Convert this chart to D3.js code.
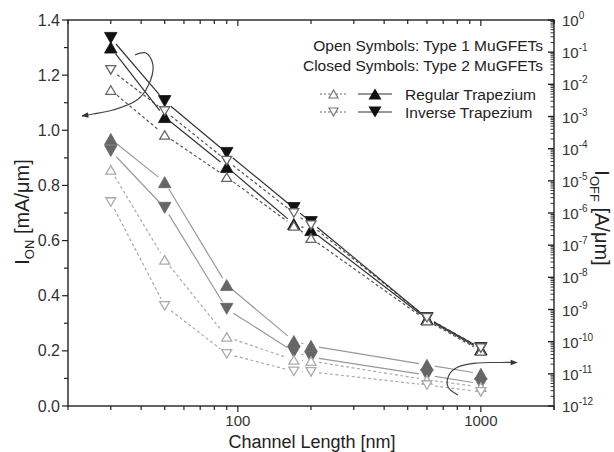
<!DOCTYPE html>
<html>
<head>
<meta charset="utf-8">
<script src="https://cdn.jsdelivr.net/npm/d3@7"></script>
<style>
  body { margin: 0; background: #fff; }
  svg { display: block; font-family: "Liberation Sans", Arial, sans-serif; }
</style>
</head>
<body>
<svg id="chart" width="614" height="452"></svg>
<script>
// channel lengths [nm]
const lengths = [30, 50, 90, 170, 200, 600, 1000];

// I_ON [mA/um] (left axis) - upper black group
const ionRegClosed = [1.30, 1.048, 0.867, 0.66, 0.638, 0.315, 0.205];
const ionInvClosed = [1.335, 1.106, 0.918, 0.718, 0.667, 0.319, 0.21];
const ionRegOpen = [1.146, 0.983, 0.83, 0.653, 0.609, 0.31, 0.2];
const ionInvOpen = [1.219, 1.07, 0.89, 0.70, 0.656, 0.32, 0.21];

// I_OFF [A/um] (right axis) - lower grey group
const ioffRegClosed = [2.0e-4, 9.1e-6, 5.8e-9, 1.05e-10, 7.4e-11, 1.9e-11, 1.0e-11];
const ioffInvClosed = [8.5e-5, 1.45e-6, 1.05e-9, 4.8e-11, 3.3e-11, 9.1e-12, 4.9e-12];
const ioffRegOpen = [2.2e-5, 3.5e-8, 1.4e-10, 2.7e-11, 2.5e-11, 6.5e-12, 3.9e-12];
const ioffInvOpen = [2.2e-6, 1.3e-9, 4.2e-11, 1.2e-11, 1.15e-11, 4.5e-12, 2.75e-12];

const leftTicks = [0.0, 0.2, 0.4, 0.6, 0.8, 1.0, 1.2, 1.4];
const rightExps = d3.range(0, -13, -1);
const xTickLabels = [100, 1000];

const L = 68, R = 554, T = 20, B = 406;
const svg = d3.select("#chart");

const x = d3.scaleLog().domain([20, 2000]).range([L, R]);
const yL = d3.scaleLinear().domain([0, 1.4]).range([B, T]);
const yR = d3.scaleLog().domain([1e-12, 1]).range([B, T]);

const axisCol = "#222";

// frame
svg.append("rect").attr("x", L).attr("y", T).attr("width", R - L).attr("height", B - T)
  .attr("fill", "none").attr("stroke", axisCol).attr("stroke-width", 1.4);

// x ticks (bottom outward, top inward)
const xMinor = [];
[10, 100, 1000].forEach(d => { for (let k = 1; k < 10; k++) { const v = d * k; if (v >= 20 && v <= 2000) xMinor.push(v); } });
xMinor.push(2000);
xMinor.forEach(v => {
  const major = xTickLabels.includes(v);
  const len = major ? 6 : 4;
  svg.append("line").attr("x1", x(v)).attr("x2", x(v)).attr("y1", B).attr("y2", B + len)
    .attr("stroke", axisCol).attr("stroke-width", 1.2);
  svg.append("line").attr("x1", x(v)).attr("x2", x(v)).attr("y1", T).attr("y2", T + len)
    .attr("stroke", axisCol).attr("stroke-width", 1.2);
});
svg.selectAll("text.xt").data(xTickLabels).enter().append("text")
  .attr("x", d => x(d)).attr("y", 426).attr("text-anchor", "middle")
  .attr("font-size", 15).attr("fill", "#333").text(d => d);

// left ticks (outward)
d3.range(0, 1.41, 0.1).forEach(v => {
  const major = Math.round(v * 10) % 2 === 0;
  svg.append("line").attr("x1", L).attr("x2", L - (major ? 6 : 4))
    .attr("y1", yL(v)).attr("y2", yL(v)).attr("stroke", axisCol).attr("stroke-width", 1.2);
});
svg.selectAll("text.yl").data(leftTicks).enter().append("text")
  .attr("x", 60).attr("y", d => yL(d) + 5.5).attr("text-anchor", "end")
  .attr("font-size", 16).attr("fill", "#333").text(d => d.toFixed(1));

// right ticks (inward)
rightExps.forEach(e => {
  const y0 = yR(Math.pow(10, e));
  svg.append("line").attr("x1", R).attr("x2", R - 6).attr("y1", y0).attr("y2", y0)
    .attr("stroke", axisCol).attr("stroke-width", 1.4);
  if (e > -12) {
    for (let k = 2; k < 10; k++) {
      const yy = yR(k * Math.pow(10, e - 1));
      svg.append("line").attr("x1", R).attr("x2", R - 3.5).attr("y1", yy).attr("y2", yy)
        .attr("stroke", axisCol).attr("stroke-width", 0.9);
    }
  }
  const t = svg.append("text").attr("x", 562).attr("y", y0 + 6)
    .attr("font-size", 15).attr("fill", "#333");
  t.append("tspan").text("10");
  t.append("tspan").attr("dy", -7).attr("font-size", 10).text(e);
});

// axis titles
svg.append("text").attr("x", 312).attr("y", 448).attr("text-anchor", "middle")
  .attr("font-size", 18).attr("fill", "#222").text("Channel Length [nm]");

const ylab = svg.append("text").attr("transform", "translate(29,212) rotate(-90)")
  .attr("text-anchor", "middle").attr("font-size", 20).attr("fill", "#222");
ylab.append("tspan").text("I");
ylab.append("tspan").attr("dy", 5).attr("font-size", 13).text("ON");
ylab.append("tspan").attr("dy", -5).text(" [mA/\u03bcm]");

const yrlab = svg.append("text").attr("transform", "translate(595,218) rotate(90)")
  .attr("text-anchor", "middle").attr("font-size", 20).attr("fill", "#222");
yrlab.append("tspan").text("I");
yrlab.append("tspan").attr("dy", 5).attr("font-size", 13).text("OFF");
yrlab.append("tspan").attr("dy", -5).text(" [A/\u03bcm]");

// markers
const up = (w, h) => `M${-w / 2},${h / 2}L${w / 2},${h / 2}L0,${-h / 2}Z`;
const down = (w, h) => `M${-w / 2},${-h / 2}L${w / 2},${-h / 2}L0,${h / 2}Z`;

const series = [
  { vals: ioffRegOpen, y: yR, open: true, dir: "up", line: "#aaa", mark: "#aaa" },
  { vals: ioffInvOpen, y: yR, open: true, dir: "down", line: "#aaa", mark: "#aaa" },
  { vals: ioffRegClosed, y: yR, open: false, dir: "up", line: "#999", mark: "#666" },
  { vals: ioffInvClosed, y: yR, open: false, dir: "down", line: "#999", mark: "#666" },
  { vals: ionRegOpen, y: yL, open: true, dir: "up", line: "#555", mark: "#666" },
  { vals: ionInvOpen, y: yL, open: true, dir: "down", line: "#555", mark: "#666" },
  { vals: ionRegClosed, y: yL, open: false, dir: "up", line: "#333", mark: "#111" },
  { vals: ionInvClosed, y: yL, open: false, dir: "down", line: "#333", mark: "#111" },
];

const gap = 8;
const lineG = svg.append("g");
const closedG = svg.append("g");
const openG = svg.append("g");

series.forEach(s => {
  const pts = lengths.map((l, i) => [x(l), s.y(s.vals[i])]);
  for (let i = 0; i < pts.length - 1; i++) {
    const [x1, y1] = pts[i], [x2, y2] = pts[i + 1];
    const d = Math.hypot(x2 - x1, y2 - y1);
    if (d <= 2 * gap) continue;
    const ux = (x2 - x1) / d, uy = (y2 - y1) / d;
    lineG.append("line")
      .attr("x1", x1 + ux * gap).attr("y1", y1 + uy * gap)
      .attr("x2", x2 - ux * gap).attr("y2", y2 - uy * gap)
      .attr("stroke", s.line).attr("stroke-width", 1.2)
      .attr("stroke-dasharray", s.open ? "3,2.5" : null);
  }
  const g = s.open ? openG : closedG;
  const w = s.open ? 10 : 12.5, h = s.open ? 8.5 : 11;
  g.selectAll(null).data(pts).enter().append("path")
    .attr("transform", p => `translate(${p[0]},${p[1]})`)
    .attr("d", s.dir === "up" ? up(w, h) : down(w, h))
    .attr("fill", s.open ? "#fff" : s.mark)
    .attr("stroke", s.mark).attr("stroke-width", s.open ? 1.3 : 0.8);
});

// curved arrows
const defs = svg.append("defs");
defs.append("marker").attr("id", "ah").attr("viewBox", "0 0 10 10").attr("refX", 9).attr("refY", 5)
  .attr("markerWidth", 9).attr("markerHeight", 7).attr("markerUnits", "userSpaceOnUse")
  .attr("orient", "auto").append("path").attr("d", "M0,1L10,5L0,9Z").attr("fill", "#333");

const curve = d3.line().curve(d3.curveCatmullRom.alpha(0.5));
svg.append("path")
  .attr("d", curve([[135, 55], [146, 53], [153, 65], [148, 86], [137, 100], [113, 110], [93, 114], [82, 116]]))
  .attr("fill", "none").attr("stroke", "#444").attr("stroke-width", 1.2).attr("marker-end", "url(#ah)");
svg.append("path")
  .attr("d", curve([[458, 395], [448, 387], [449, 375], [458, 367], [477, 363], [500, 362.5], [517, 362.5]]))
  .attr("fill", "none").attr("stroke", "#444").attr("stroke-width", 1.2).attr("marker-end", "url(#ah)");

// legend
const lg = svg.append("g").attr("font-size", 15.5).attr("fill", "#222");
lg.append("text").attr("x", 543).attr("y", 51).attr("text-anchor", "end").text("Open Symbols: Type 1 MuGFETs");
lg.append("text").attr("x", 543).attr("y", 71).attr("text-anchor", "end").text("Closed Symbols: Type 2 MuGFETs");

const legendRows = [
  { label: "Regular Trapezium", dir: "up", y: 94 },
  { label: "Inverse Trapezium", dir: "down", y: 112 },
];
legendRows.forEach(r => {
  lg.append("line").attr("x1", 320).attr("x2", 347).attr("y1", r.y).attr("y2", r.y)
    .attr("stroke", "#666").attr("stroke-width", 1).attr("stroke-dasharray", "2,2");
  lg.append("path").attr("transform", `translate(333.5,${r.y})`)
    .attr("d", r.dir === "up" ? up(9, 8) : down(9, 8))
    .attr("fill", "#fff").attr("stroke", "#777").attr("stroke-width", 1.2);
  lg.append("line").attr("x1", 358).attr("x2", 392).attr("y1", r.y).attr("y2", r.y)
    .attr("stroke", "#333").attr("stroke-width", 1.2);
  lg.append("path").attr("transform", `translate(375,${r.y})`)
    .attr("d", r.dir === "up" ? up(13, 11) : down(13, 11)).attr("fill", "#111");
  lg.append("text").attr("x", 405).attr("y", r.y + 5.5).text(r.label);
});
</script>
</body>
</html>
